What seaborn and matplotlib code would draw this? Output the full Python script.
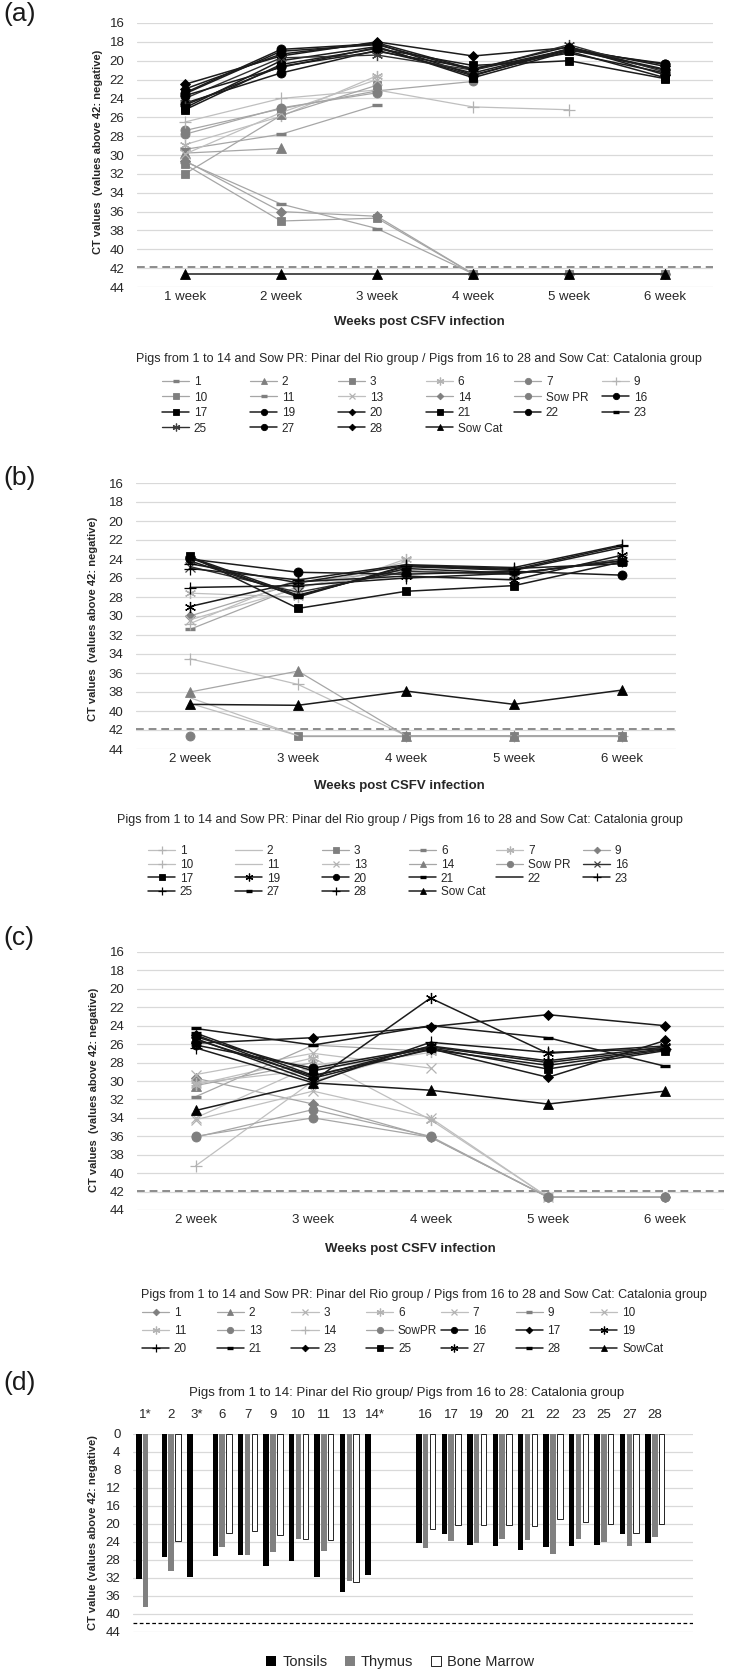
import numpy as np
import pandas as pd
import seaborn as sns
import matplotlib
matplotlib.use('Agg')
import matplotlib.pyplot as plt

W, H = 740, 1673
nan = np.nan

### DATA

# (a) weeks 1-6
weeks_a = ['1 week', '2 week', '3 week', '4 week', '5 week', '6 week']
pigs_a = ['1', '2', '3', '6', '7', '9', '10', '11', '13', '14', 'Sow PR',
          '16', '17', '19', '20', '21', '22', '23', '25', '27', '28', 'Sow Cat']
ct_a = [
    [30.7, 35.2, 37.8, 42.6, 42.6, 42.6],
    [29.8, 29.3, nan, nan, nan, nan],
    [31.0, 37.0, 36.7, 42.6, 42.6, 42.6],
    [28.9, 25.9, 21.6, nan, nan, nan],
    [27.4, 25.1, 23.2, 22.2, nan, nan],
    [26.5, 24.0, 23.1, 24.9, 25.2, nan],
    [32.0, 25.8, 22.6, nan, nan, nan],
    [29.4, 27.8, 24.7, nan, nan, nan],
    [29.9, 25.5, 22.0, nan, nan, nan],
    [30.6, 36.0, 36.5, 42.6, 42.6, 42.6],
    [27.8, 25.0, 23.4, nan, nan, nan],
    [23.5, 19.0, 18.3, 21.0, 18.8, 20.4],
    [25.2, 20.4, 18.7, 20.5, 20.0, 21.9],
    [24.5, 21.3, 18.9, 21.3, 18.8, 21.0],
    [22.5, 19.5, 18.0, 19.5, 18.6, 20.6],
    [25.0, 20.0, 18.5, 21.8, 19.0, 21.8],
    [23.4, 18.8, 18.2, 21.5, 18.9, 20.3],
    [24.7, 20.6, 19.0, 20.8, 19.2, 21.3],
    [24.0, 19.7, 19.4, 21.0, 18.3, 21.2],
    [23.7, 20.7, 18.6, 21.6, 18.7, 20.9],
    [23.0, 19.3, 18.1, 20.9, 18.5, 21.5],
    [42.6, 42.6, 42.6, 42.6, 42.6, 42.6],
]

# (b) weeks 2-6
weeks_b = ['2 week', '3 week', '4 week', '5 week', '6 week']
pigs_b = ['1', '2', '3', '6', '7', '9', '10', '11', '13', '14', 'Sow PR',
          '16', '17', '19', '20', '21', '22', '23', '25', '27', '28', 'Sow Cat']
ct_b = [
    [34.5, 37.2, 42.6, 42.6, 42.6],
    [39.2, 42.6, 42.6, 42.6, 42.6],
    [nan, 42.6, 42.6, 42.6, 42.6],
    [31.4, 26.9, 25.5, 25.4, nan],
    [27.6, 28.0, 24.0, nan, nan],
    [30.0, 26.5, 25.2, 25.6, nan],
    [30.8, 26.1, nan, nan, nan],
    [38.6, 42.6, nan, nan, nan],
    [30.4, 27.1, 24.3, nan, nan],
    [38.0, 35.8, 42.6, 42.6, 42.6],
    [42.6, nan, nan, nan, nan],
    [24.8, 27.5, 25.3, 25.6, 24.0],
    [23.7, 29.2, 27.4, 26.8, 24.3],
    [29.0, 26.4, 25.8, 26.2, 23.6],
    [24.0, 25.4, 25.6, 25.3, 25.7],
    [23.9, 28.0, 24.7, 25.0, 24.5],
    [24.2, 27.9, 24.8, 25.2, 22.8],
    [27.0, 26.8, 26.0, 25.5, 24.2],
    [25.0, 26.2, 24.6, 24.9, 22.5],
    [23.8, 27.8, 25.0, 25.5, 24.2],
    [24.5, 26.5, 24.7, 25.1, 22.6],
    [39.3, 39.4, 37.9, 39.3, 37.8],
]

# (c) weeks 2-6
weeks_c = ['2 week', '3 week', '4 week', '5 week', '6 week']
pigs_c = ['1', '2', '3', '6', '7', '9', '10', '11', '13', '14', 'SowPR',
          '16', '17', '19', '20', '21', '23', '25', '27', '28', 'SowCat']
ct_c = [
    [29.7, 32.5, 36.1, 42.6, 42.6],
    [30.5, 28.0, nan, nan, nan],
    [34.2, 31.1, 34.0, 42.6, nan],
    [30.4, 27.5, 34.2, 42.6, nan],
    [29.3, 27.0, 28.6, nan, nan],
    [31.7, 26.1, 26.8, nan, nan],
    [34.0, 28.3, 26.6, nan, nan],
    [30.2, 28.8, 26.9, nan, nan],
    [36.0, 34.0, 36.1, 42.6, 42.6],
    [39.2, 30.0, 26.4, nan, nan],
    [36.1, 33.1, 36.0, 42.6, 42.6],
    [26.1, 28.6, 26.3, 28.0, 26.5],
    [25.9, 25.3, 24.1, 22.8, 24.0],
    [25.4, 30.0, 21.0, 27.0, 26.2],
    [26.4, 30.2, 25.8, 26.9, 26.5],
    [24.8, 29.4, 26.6, 28.3, 26.6],
    [25.0, 29.7, 26.5, 29.6, 25.6],
    [25.2, 28.9, 26.4, 28.7, 26.7],
    [25.5, 29.5, 26.2, 27.8, 26.3],
    [24.3, 26.1, 24.0, 25.3, 28.4],
    [33.2, 30.2, 31.0, 32.5, 31.1],
]

# (d) organs at necropsy
pigs_d = ['1*', '2', '3*', '6', '7', '9', '10', '11', '13', '14*',
          '16', '17', '19', '20', '21', '22', '23', '25', '27', '28']
tissues = ['Tonsils', 'Thymus', 'Bone Marrow']
tonsils = [32.3, 27.3, 31.8, 27.2, 26.8, 29.4, 28.3, 31.8, 35.0, 31.4,
           24.3, 22.3, 24.6, 24.9, 25.7, 25.1, 24.9, 24.6, 22.2, 24.2]
thymus = [38.4, 30.5, nan, 25.1, 26.9, 26.3, 23.4, 26.0, 32.6, nan,
          25.4, 23.7, 24.2, 23.3, 23.5, 26.6, 23.4, 24.0, 24.9, 22.8]
marrow = [nan, 23.7, nan, 22.0, 21.5, 22.4, 23.4, 23.6, 32.8, nan,
          21.0, 20.3, 20.2, 20.3, 20.4, 18.8, 19.5, 19.9, 22.0, 20.0]

### STYLES (marker key / tone key per series)
mk_a = ['_', '^', 's', '*', 'o', '+', 's', '_', 'x', 'D', 'o',
        'o', 's', 'o', 'D', 's', 'o', '_', '*', 'o', 'D', '^']
tone_a = ['g', 'g', 'g', 'l', 'g', 'l', 'g', 'g', 'l', 'g', 'g',
          'k', 'k', 'k', 'k', 'k', 'k', 'k', 'd', 'k', 'k', 'k']
mk_b = ['+', '', 's', '_', '*', 'D', '+', '', 'x', '^', 'o',
        'x', 's', '*', 'o', '_', '', '+', '+', '_', '+', '^']
tone_b = ['l', 'l', 'g', 'g', 'l', 'g', 'l', 'l', 'l', 'g', 'g',
          'd', 'k', 'k', 'k', 'k', 'k', 'k', 'k', 'k', 'k', 'k']
mk_c = ['D', '^', 'x', '*', 'x', '_', 'x', '*', 'o', '+', 'o',
        'o', 'D', '*', '+', '_', 'D', 's', '*', '_', '^']
tone_c = ['g', 'g', 'l', 'l', 'l', 'g', 'l', 'l', 'g', 'l', 'g',
          'k', 'k', 'k', 'k', 'k', 'k', 'k', 'k', 'k', 'k']

MARK = {'o': ('o', 6.5, 0.6), 's': ('s', 6.0, 0.6), 'D': ('D', 4.8, 0.6),
        '^': ('^', 7.0, 0.6), '_': ('_', 7.0, 2.4), '+': ('+', 8.0, 0.9),
        'x': ('x', 6.5, 0.9), '*': ((6, 2, 0), 8.0, 0.9), '': ('None', 0, 0)}
TONE = {'k': ('#000000', '#1c1c1c', 1.1), 'd': ('#404040', '#303030', 1.0),
        'g': ('#7f7f7f', '#a6a6a6', 0.9), 'l': ('#b3b3b3', '#bfbfbf', 0.9)}

sns.set_theme(style='white')
plt.rcParams['font.family'] = ['Liberation Sans Narrow', 'Liberation Sans', 'DejaVu Sans']

fig = plt.figure(figsize=(W / 100, H / 100), dpi=100)
TXT = '#262626'
YLAB = 'CT values  (values above 42: negative)'


def px_rect(l, t, r, b):
    return [l / W, 1 - b / H, (r - l) / W, (b - t) / H]


def line_panel(rect, weeks, pigs, ct, marks, tones):
    ax = fig.add_axes(px_rect(*rect))
    for pig, vals, m, t in zip(pigs, ct, marks, tones):
        marker, ms, mew = MARK[m]
        mc, lc, lw = TONE[t]
        d = pd.DataFrame({'week': weeks, 'ct': vals})
        sns.lineplot(data=d, x='week', y='ct', ax=ax, sort=False, errorbar=None,
                     color=lc, linewidth=lw, marker=marker, markersize=ms,
                     markeredgewidth=mew, markerfacecolor=mc, markeredgecolor=mc,
                     label=pig, legend=False)
    ax.axhline(41.9, color='#8c8c8c', lw=1.4, ls=(0, (4, 2.5)), zorder=1)
    ax.set_xlim(-0.5, len(weeks) - 0.5)
    ax.set_ylim(44, 16)
    ax.set_yticks(range(16, 45, 2))
    ax.yaxis.grid(True, color='#d9d9d9', lw=0.9)
    ax.xaxis.grid(False)
    ax.set_axisbelow(True)
    sns.despine(ax=ax, left=True, bottom=True)
    ax.tick_params(length=0, labelsize=9.5, colors=TXT)
    ax.tick_params(axis='y', pad=9)
    ax.tick_params(axis='x', pad=3)
    ax.set_xlabel('')
    ax.set_ylabel('')
    return ax


def column_legends(ax, ncol, x0, dx, ytop, spacing):
    handles, labels = ax.get_legend_handles_labels()
    for c in range(ncol):
        fig.legend(handles[c::ncol], labels[c::ncol], loc='upper left',
                   bbox_to_anchor=((x0 + c * dx) / W, 1 - ytop / H),
                   frameon=False, borderpad=0, borderaxespad=0, handlelength=2.3,
                   handletextpad=0.4, labelspacing=spacing, fontsize=8.5,
                   markerscale=0.7, labelcolor=TXT)


GROUPS = 'Pigs from 1 to 14 and Sow PR: Pinar del Rio group / Pigs from 16 to 28 and Sow Cat: Catalonia group'

# (a)
ax_a = line_panel((137, 23, 713, 287), weeks_a, pigs_a, ct_a, mk_a, tone_a)
fig.text(419 / W, 1 - 322 / H, 'Weeks post CSFV infection', ha='center', va='center',
         fontsize=9.5, fontweight='bold', color=TXT)
fig.text(98 / W, 1 - 152 / H, YLAB, rotation=90, ha='center', va='center',
         fontsize=8, fontweight='bold', family='Liberation Sans', color=TXT)
fig.text(419 / W, 1 - 359 / H, GROUPS, ha='center', va='center', fontsize=9, color=TXT)
column_legends(ax_a, 6, 162, 88, 376, 0.3)

# (b)
ax_b = line_panel((136, 483, 676, 749), weeks_b, pigs_b, ct_b, mk_b, tone_b)
fig.text(399 / W, 1 - 786 / H, 'Weeks post CSFV infection', ha='center', va='center',
         fontsize=9.5, fontweight='bold', color=TXT)
fig.text(93 / W, 1 - 619 / H, YLAB, rotation=90, ha='center', va='center',
         fontsize=8, fontweight='bold', family='Liberation Sans', color=TXT)
fig.text(400 / W, 1 - 820 / H, GROUPS, ha='center', va='center', fontsize=9, color=TXT)
column_legends(ax_b, 6, 148, 87, 845, 0.15)

# (c)
ax_c = line_panel((137, 952, 724, 1210), weeks_c, pigs_c, ct_c, mk_c, tone_c)
fig.text(410 / W, 1 - 1249 / H, 'Weeks post CSFV infection', ha='center', va='center',
         fontsize=9.5, fontweight='bold', color=TXT)
fig.text(94 / W, 1 - 1090 / H, YLAB, rotation=90, ha='center', va='center',
         fontsize=8, fontweight='bold', family='Liberation Sans', color=TXT)
fig.text(424 / W, 1 - 1295 / H, GROUPS, ha='center', va='center', fontsize=9, color=TXT)
column_legends(ax_c, 7, 142, 74.7, 1307, 0.5)

# (d)
ax_d = fig.add_axes(px_rect(133, 1434, 693, 1632))
rows = []
for tissue, vals in zip(tissues, [tonsils, thymus, marrow]):
    for p, v in zip(pigs_d, vals):
        rows.append({'pig': p, 'tissue': tissue, 'ct': v})
dd = pd.DataFrame(rows)
order_d = pigs_d[:10] + [' '] + pigs_d[10:] + ['  ']
sns.barplot(data=dd, x='pig', y='ct', hue='tissue', order=order_d, hue_order=tissues,
            palette=['#000000', '#808080', '#ffffff'], width=0.8, gap=0.2,
            errorbar=None, saturation=1, legend=False, linewidth=0, ax=ax_d)
for patch in ax_d.containers[2]:
    patch.set_edgecolor('black')
    patch.set_linewidth(0.6)
ax_d.set_ylim(44, 0)
ax_d.set_yticks(range(0, 45, 4))
ax_d.axhline(42, color='black', lw=0.9, ls=(0, (3, 2)), zorder=1)
ax_d.yaxis.grid(True, color='#d9d9d9', lw=0.9)
ax_d.xaxis.grid(False)
ax_d.set_axisbelow(True)
ax_d.xaxis.tick_top()
sns.despine(ax=ax_d, left=True, bottom=True, top=True)
ax_d.tick_params(length=0, labelsize=9.5, colors=TXT)
ax_d.tick_params(axis='y', pad=9)
ax_d.tick_params(axis='x', pad=9)
ax_d.set_xlabel('')
ax_d.set_ylabel('')
fig.text(93 / W, 1 - 1533 / H, 'CT value (values above 42: negative)', rotation=90,
         ha='center', va='center', fontsize=8, fontweight='bold',
         family='Liberation Sans', color=TXT)
fig.text(407 / W, 1 - 1393 / H,
         'Pigs from 1 to 14: Pinar del Rio group/ Pigs from 16 to 28: Catalonia group',
         ha='center', va='center', fontsize=9.5, color=TXT)
fig.legend(ax_d.containers, tissues, loc='center', bbox_to_anchor=(400 / W, 1 - 1662 / H),
           ncol=3, frameon=False, handlelength=0.7, handleheight=0.7, handletextpad=0.4,
           columnspacing=1.2, fontsize=10.5, labelcolor=TXT)

# panel letters
for lab, yc in zip(['(a)', '(b)', '(c)', '(d)'], [14, 478, 938, 1383]):
    fig.text(3 / W, 1 - yc / H, lab, ha='left', va='center', fontsize=19, color='#1a1a1a')

fig.savefig('out.png', dpi=100)
